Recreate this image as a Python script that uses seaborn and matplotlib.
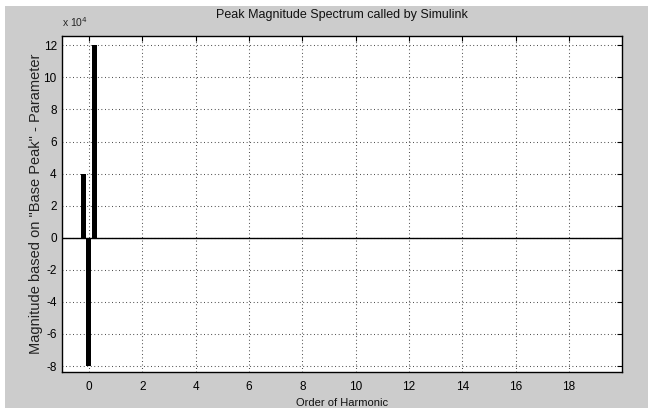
import matplotlib
matplotlib.use("Agg")
import matplotlib.pyplot as plt
import matplotlib.patches as mpatches
from matplotlib.ticker import FuncFormatter
import seaborn as sns
import numpy as np

# data
harmonic_pos = [-0.21, 0.0, 0.21]
magnitude = [4e4, -8e4, 12e4]
x_ticks = [0, 2, 4, 6, 8, 10, 12, 14, 16, 18]
y_ticks = [-8e4, -6e4, -4e4, -2e4, 0, 2e4, 4e4, 6e4, 8e4, 10e4, 12e4]

sns.set_style("white")
plt.rcParams['font.family'] = ['Liberation Sans', 'DejaVu Sans']

fig = plt.figure(figsize=(6.48, 4.08), dpi=100, facecolor='#cccccc')
# white border of the screenshot (top and left)
fig.patches.append(mpatches.Rectangle((0, 1 - 6/408), 1, 6/408, transform=fig.transFigure,
                                      facecolor='white', edgecolor='none', zorder=-1))
fig.patches.append(mpatches.Rectangle((0, 0), 5/648, 1, transform=fig.transFigure,
                                      facecolor='white', edgecolor='none', zorder=-1))

ax = fig.add_axes([0.0961, 0.089, 0.9604 - 0.0961, 0.9125 - 0.089])
ax.set_facecolor('white')

sns.barplot(x=harmonic_pos, y=magnitude, native_scale=True, color='black',
            width=0.9, errorbar=None, linewidth=0, saturation=1, ax=ax, zorder=3)

ax.axhline(0, color='black', lw=1.0, zorder=4)

ax.set_xlim(-1, 20)
ax.set_ylim(-8.35e4, 12.6e4)
ax.set_xticks(x_ticks)
ax.set_yticks(y_ticks)
ax.xaxis.set_major_formatter(FuncFormatter(lambda v, p: f"{int(round(v))}"))
ax.yaxis.set_major_formatter(FuncFormatter(lambda v, p: f"{int(round(v / 1e4))}"))

ax.grid(True, linestyle=(0, (0.8, 2.6)), color='#303030', lw=0.75, zorder=1)
ax.tick_params(direction='in', length=3.8, width=0.8, color='black',
               top=True, right=True, labelsize=8.5, labelcolor='black')
ax.tick_params(axis='x', pad=7)
ax.tick_params(axis='y', pad=4)
for s in ax.spines.values():
    s.set_color('black')
    s.set_linewidth(1.0)

ax.set_title('Peak Magnitude Spectrum called by Simulink', fontsize=9, pad=13, color='#111111')
ax.set_xlabel('Order of Harmonic', fontsize=8, labelpad=3, color='#111111')
ax.set_ylabel('Magnitude based on "Base Peak" - Parameter', fontsize=10.5, labelpad=0,
              color='#222222')
ax.text(0.0, 1.02, r'x 10$^4$', transform=ax.transAxes, fontsize=7.5, ha='left', va='bottom')

fig.savefig('out.png', dpi=100, facecolor=fig.get_facecolor())
